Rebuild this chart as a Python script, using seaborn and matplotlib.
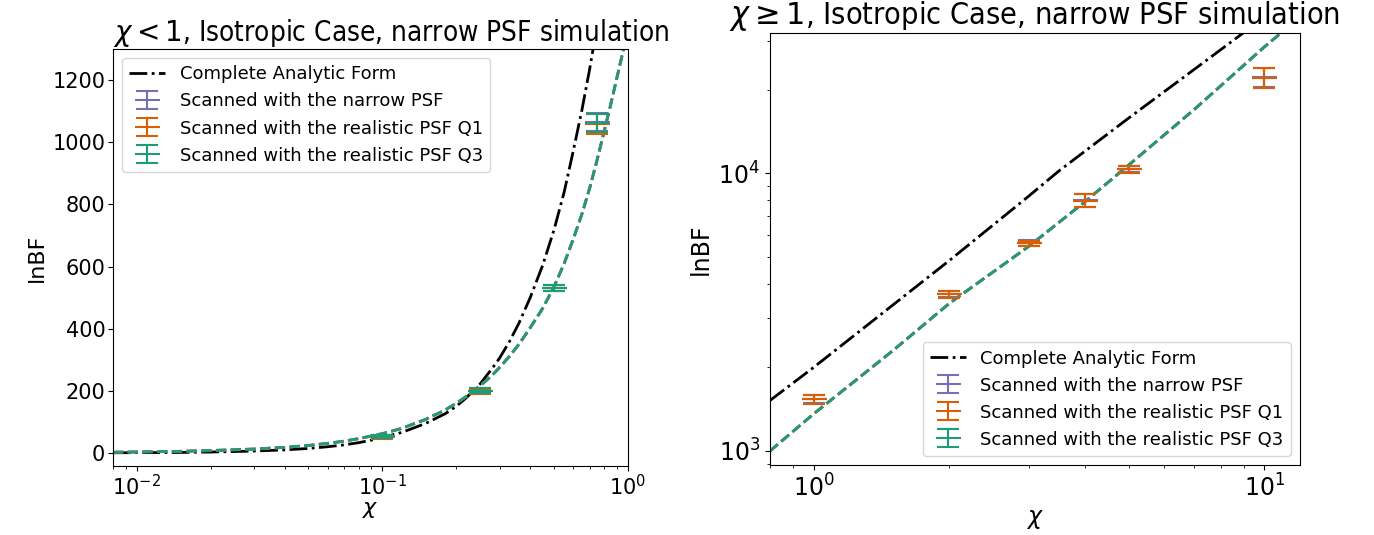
import numpy as np
import pandas as pd
import seaborn as sns
import matplotlib.pyplot as plt
from matplotlib.lines import Line2D

# scanned points, chi < 1
chi_low = [0.1, 0.25, 0.5, 0.75]
narrow_low = [52, 200, 532, 1066]
narrow_low_err = [5, 8, 10, 30]
q1_low = [51, 199, 530, 1060]
q1_low_err = [5, 8, 10, 32]
q3_low = [53, 201, 531, 1062]
q3_low_err = [4, 7, 9, 28]

# scanned points, chi >= 1
chi_high = [1, 2, 3, 4, 5, 10]
narrow_high = [1540, 3670, 5600, 7990, 10330, 22150]
narrow_high_err = [50, 90, 140, 400, 250, 1700]
q1_high = [1535, 3660, 5590, 7970, 10320, 22100]
q1_high_err = [55, 95, 130, 420, 260, 1750]
q3_high = [1535, 3660, 5590, 7970, 10320, 22100]
q3_high_err = [55, 95, 130, 420, 260, 1750]

# complete analytic form
ana_x_low = [0.008, 0.01, 0.015, 0.02, 0.03, 0.04, 0.05, 0.06, 0.07, 0.08, 0.09,
             0.1, 0.12, 0.15, 0.18, 0.2, 0.22, 0.25, 0.28, 0.3, 0.33, 0.36, 0.4,
             0.45, 0.5, 0.55, 0.6, 0.65, 0.7, 0.75, 0.8]
ana_y_low = [0.55, 0.8, 1.6, 2.9, 6, 9.8, 14.5, 20, 26, 33, 41,
             50, 66, 95, 126, 150, 178, 222, 272, 305, 360, 418, 500,
             605, 718, 840, 975, 1105, 1240, 1380, 1530]
ana_x_high = [0.8, 1, 2, 3, 3.5, 5, 7, 9, 12]
ana_y_high = [1520, 2000, 4850, 8270, 10190, 15800, 23700, 32100, 45000]

# scanned curves (dashed)
scan_x_low = [0.008, 0.01, 0.015, 0.02, 0.03, 0.04, 0.05, 0.06, 0.07, 0.08, 0.1,
              0.12, 0.15, 0.18, 0.2, 0.22, 0.25, 0.28, 0.3, 0.33, 0.36, 0.4, 0.45,
              0.5, 0.55, 0.6, 0.65, 0.7, 0.75, 0.8, 0.85, 0.9, 0.95, 1.0]
scan_y_low = [2.3, 3.1, 5.2, 7.7, 12.5, 18, 24, 31, 38, 46, 62,
              79, 108, 138, 160, 182, 216, 250, 275, 312, 350, 403, 466,
              535, 610, 690, 770, 855, 945, 1035, 1120, 1205, 1285, 1365]
scan_x_high = [0.8, 1, 1.5, 2, 3, 4, 5, 7, 10, 12]
scan_y_high = [1000, 1360, 2300, 3400, 5450, 7900, 10700, 17000, 28500, 36500]

labels = ['Scanned with the narrow PSF',
          'Scanned with the realistic PSF Q1',
          'Scanned with the realistic PSF Q3']
pal = sns.color_palette('Dark2')
colors = [pal[2], pal[1], pal[0]]

plt.rcParams['font.family'] = ['DejaVu Sans']

fig = plt.figure(figsize=(13.74, 5.35), dpi=100)
ax1 = fig.add_axes([0.0822, 0.129, 0.3748, 0.779])
ax2 = fig.add_axes([0.5604, 0.1308, 0.3857, 0.8075])


def draw(ax, ax_x, ax_y, sx, sy, chi, series, zorders):
    sns.lineplot(x=ax_x, y=ax_y, ax=ax, color='k', linestyle='-.', linewidth=2, sort=False)
    for c in colors:
        sns.lineplot(x=sx, y=sy, ax=ax, color=c, linestyle='--', linewidth=2, sort=False)
    handles = [Line2D([], [], color='k', linestyle='-.', linewidth=2)]
    for (vals, errs), c, lab, z in zip(series, colors, labels, zorders):
        h = ax.errorbar(chi, vals, yerr=errs, fmt='_', color=c, markersize=18,
                        markeredgewidth=1.5, elinewidth=1.5, capsize=8, capthick=1.5,
                        zorder=z, label=lab)
        handles.append(h)
    ax.set_xscale('log')
    return handles


h1 = draw(ax1, ana_x_low, ana_y_low, scan_x_low, scan_y_low, chi_low,
          [(narrow_low, narrow_low_err), (q1_low, q1_low_err), (q3_low, q3_low_err)],
          [3, 4, 5])
ax1.set_xlim(0.008, 1.0)
ax1.set_ylim(-42, 1300)
ax1.legend(h1, ['Complete Analytic Form'] + labels, loc='upper left', fontsize=13)
ax1.set_title(r'$\chi<1$, Isotropic Case, narrow PSF simulation', fontsize=20,
              fontstretch='condensed', x=0.54)
ax1.set_xlabel(r'$\chi$', fontsize=16, labelpad=1)
ax1.set_ylabel('lnBF', fontsize=16)
ax1.tick_params(labelsize=15, pad=2)

h2 = draw(ax2, ana_x_high, ana_y_high, scan_x_high, scan_y_high, chi_high,
          [(narrow_high, narrow_high_err), (q1_high, q1_high_err), (q3_high, q3_high_err)],
          [4, 5, 3])
ax2.set_yscale('log')
ax2.set_xlim(0.8, 12)
ax2.set_ylim(890, 32000)
ax2.legend(h2, ['Complete Analytic Form'] + labels, loc='lower right', fontsize=13)
ax2.set_title(r'$\chi\geq1$, Isotropic Case, narrow PSF simulation', fontsize=22,
              fontstretch='condensed')
ax2.set_xlabel(r'$\chi$', fontsize=17)
ax2.set_ylabel('lnBF', fontsize=17)
ax2.tick_params(labelsize=17)

fig.savefig('out.png', dpi=100)
